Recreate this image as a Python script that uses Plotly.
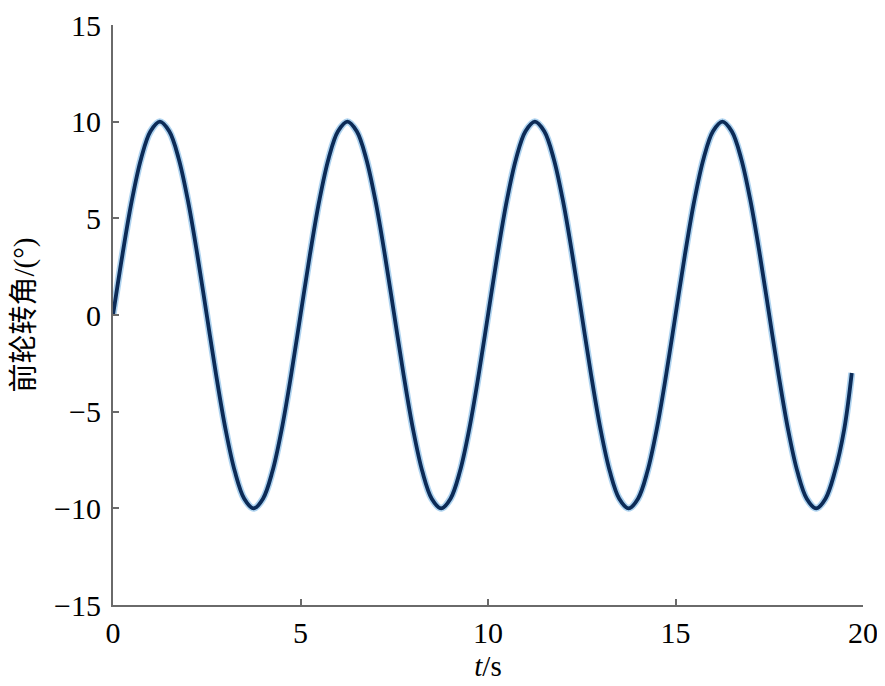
import plotly.graph_objects as go

# time samples (s) and front wheel steering angle (deg)
t = [0.0, 0.25, 0.5, 0.75, 1.0, 1.25, 1.5, 1.75, 2.0, 2.25, 2.5, 2.75, 3.0, 3.25, 3.5, 3.75,
     4.0, 4.25, 4.5, 4.75, 5.0, 5.25, 5.5, 5.75, 6.0, 6.25, 6.5, 6.75, 7.0, 7.25, 7.5, 7.75,
     8.0, 8.25, 8.5, 8.75, 9.0, 9.25, 9.5, 9.75, 10.0, 10.25, 10.5, 10.75, 11.0, 11.25, 11.5,
     11.75, 12.0, 12.25, 12.5, 12.75, 13.0, 13.25, 13.5, 13.75, 14.0, 14.25, 14.5, 14.75,
     15.0, 15.25, 15.5, 15.75, 16.0, 16.25, 16.5, 16.75, 17.0, 17.25, 17.5, 17.75, 18.0,
     18.25, 18.5, 18.75, 19.0, 19.25, 19.5, 19.7]
angle = [0.0, 3.1, 5.9, 8.1, 9.5, 10.0, 9.5, 8.1, 5.9, 3.1, 0.0, -3.1, -5.9, -8.1, -9.5, -10.0,
         -9.5, -8.1, -5.9, -3.1, 0.0, 3.1, 5.9, 8.1, 9.5, 10.0, 9.5, 8.1, 5.9, 3.1, 0.0, -3.1,
         -5.9, -8.1, -9.5, -10.0, -9.5, -8.1, -5.9, -3.1, 0.0, 3.1, 5.9, 8.1, 9.5, 10.0, 9.5,
         8.1, 5.9, 3.1, 0.0, -3.1, -5.9, -8.1, -9.5, -10.0, -9.5, -8.1, -5.9, -3.1,
         0.0, 3.1, 5.9, 8.1, 9.5, 10.0, 9.5, 8.1, 5.9, 3.1, 0.0, -3.1, -5.9,
         -8.1, -9.5, -10.0, -9.5, -8.1, -5.9, -3.0]

x_ticks = [0, 5, 10, 15, 20]
y_ticks = [-15, -10, -5, 0, 5, 10, 15]

fig = go.Figure()
# soft halo under the line
fig.add_trace(go.Scatter(x=t, y=angle, mode="lines",
                         line=dict(color="rgba(110,175,225,0.55)", width=7, shape="spline"),
                         hoverinfo="skip", showlegend=False))
fig.add_trace(go.Scatter(x=t, y=angle, mode="lines",
                         line=dict(color="#0c2b57", width=3.8, shape="spline"),
                         showlegend=False))

font_family = "Liberation Serif, Times New Roman, Noto Sans CJK SC, serif"
axis_common = dict(showgrid=False, zeroline=False, showline=True, linecolor="#6a6a6a",
                   linewidth=2, ticks="inside", ticklen=6, tickwidth=2, tickcolor="#6a6a6a",
                   automargin=False,
                   tickfont=dict(family=font_family, size=30, color="black"))

# the page adds an 8px body margin, so the figure is sized to fit inside the window
fig.update_layout(
    width=877, height=678,
    margin=dict(l=105, r=22, t=17, b=81),
    paper_bgcolor="white", plot_bgcolor="white",
    xaxis=dict(range=[0, 20], tickvals=x_ticks, **axis_common,
               title=dict(text="<i>t</i>/s", font=dict(family=font_family, size=29, color="black"),
                          standoff=8)),
    yaxis=dict(range=[-15, 15], tickvals=y_ticks, **axis_common, ticklabelstandoff=4,
               title=dict(text="前轮转角/(°)", font=dict(family=font_family, size=29, color="black"),
                          standoff=12)),
)

fig.write_html("out.html")
